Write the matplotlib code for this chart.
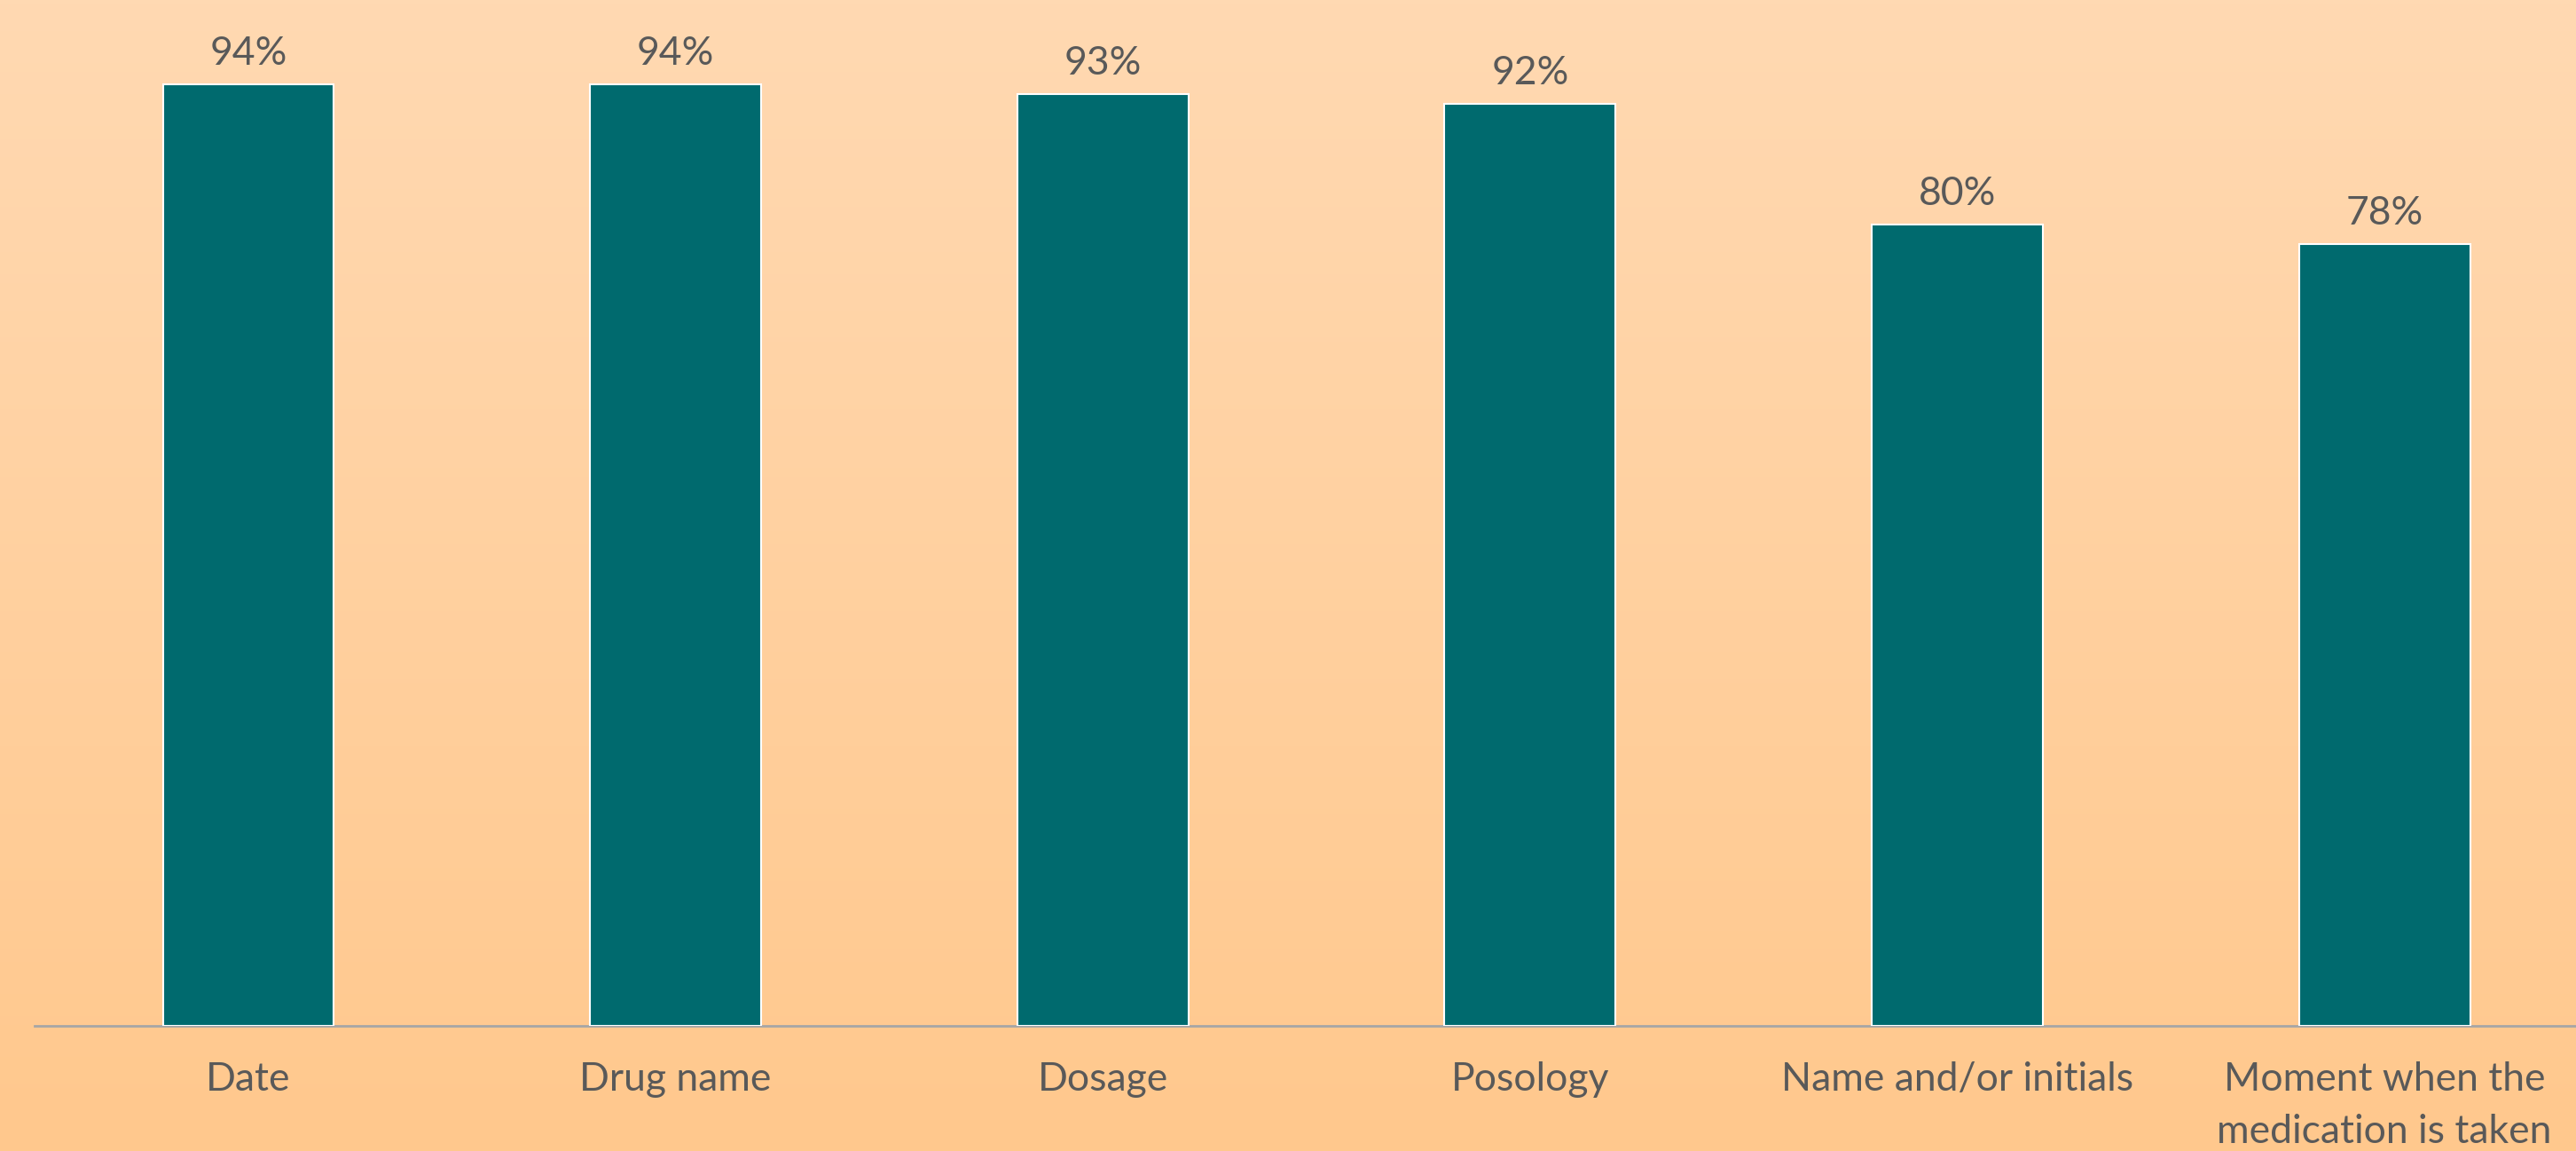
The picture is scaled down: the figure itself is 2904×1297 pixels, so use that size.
import numpy as np
import matplotlib
matplotlib.use("Agg")
import matplotlib.pyplot as plt
from matplotlib.colors import LinearSegmentedColormap

categories = ["Date", "Drug name", "Dosage", "Posology", "Name and/or initials",
              "Moment when the\nmedication is taken"]
values = [0.94, 0.94, 0.93, 0.92, 0.80, 0.78]
value_labels = ["94%", "94%", "93%", "92%", "80%", "78%"]

W, H = 2904, 1297
fig = plt.figure(figsize=(W / 100, H / 100), dpi=100)

# gradient background
bg = fig.add_axes([0, 0, 1, 1], zorder=0)
cmap = LinearSegmentedColormap.from_list("bg", ["#FFD9B2", "#FFC88D"])
grad = np.linspace(0, 1, 256).reshape(-1, 1)
bg.imshow(grad, aspect="auto", cmap=cmap, extent=[0, 1, 0, 1], origin="upper")
bg.set_axis_off()

font = ["Lato", "DejaVu Sans"]
text_color = "#595959"

left_px, right_px = 39, 2929
bottom_px, top_px = 1156, 27
ax = fig.add_axes([left_px / W, (H - bottom_px) / H,
                   (right_px - left_px) / W, (bottom_px - top_px) / H], zorder=1)
ax.patch.set_alpha(0)

x = np.arange(len(categories))
bars = ax.bar(x, values, width=0.4, color="#006A6E", edgecolor="white",
              linewidth=1.5, zorder=3)
for xi, v, lab in zip(x, values, value_labels):
    ax.annotate(lab, (xi, v), xytext=(0, 10), textcoords="offset points",
                ha="center", va="bottom", fontsize=32, color=text_color,
                family=font)

ax.set_xlim(-0.5, len(categories) - 0.5)
ax.set_ylim(0, 1.0)
ax.set_yticks([])
ax.set_xticks(x)
ax.set_xticklabels(categories, fontsize=32, color=text_color, family=font,
                   linespacing=1.55)
ax.tick_params(axis="x", length=0, pad=29)
for s in ["top", "right", "left"]:
    ax.spines[s].set_visible(False)
ax.spines["bottom"].set_color("#A6A6A6")
ax.spines["bottom"].set_linewidth(2)

fig.savefig("out.png", dpi=100)
